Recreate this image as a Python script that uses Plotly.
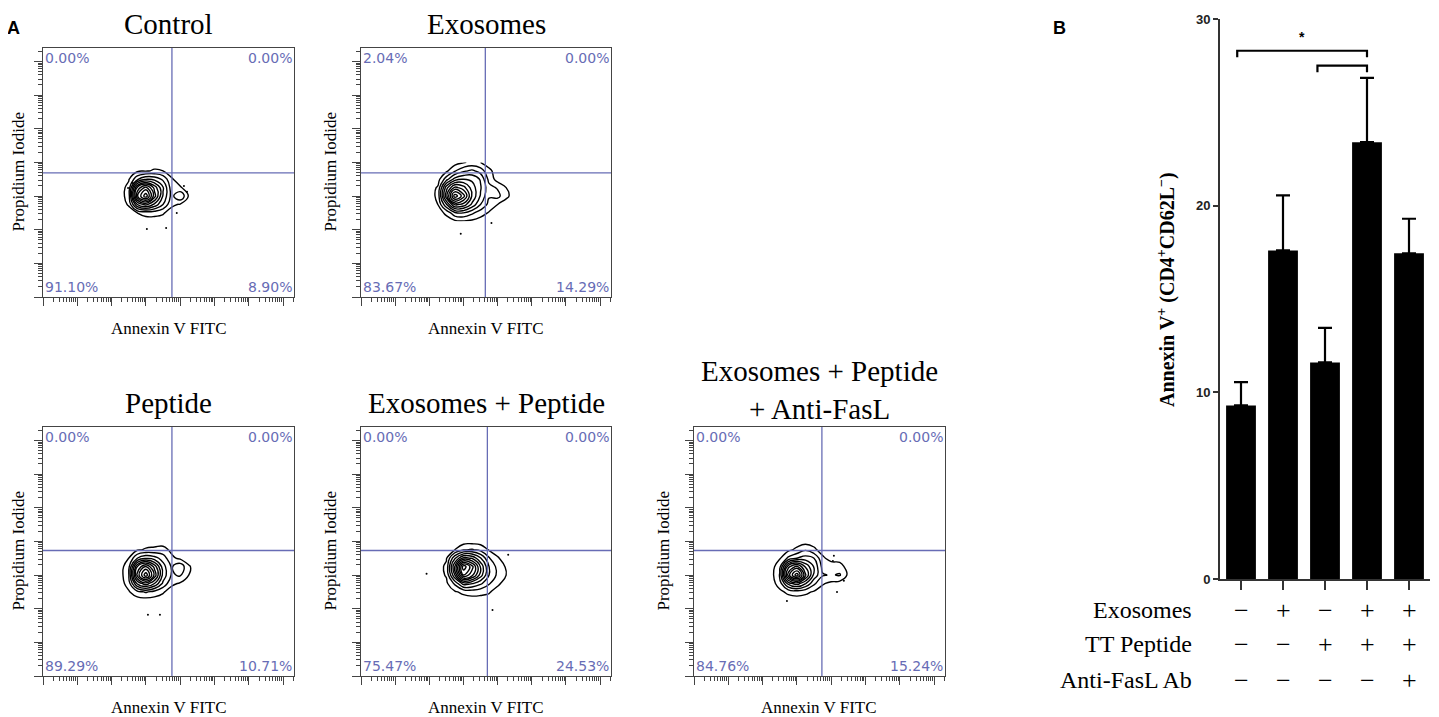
"""Annexin V / PI flow panels (A) and apoptosis bar chart (B)."""
import math

import plotly.graph_objects as go

# the page body adds an 8px margin, so the figure is drawn slightly smaller
PAGE_W, PAGE_H, BODY = 1439, 717, 8
W, H = PAGE_W - 2 * BODY, PAGE_H - BODY

# ---- panel A data (axis units = decades) ----
titles = ["Control", "Exosomes", "Peptide", "Exosomes + Peptide",
          "Exosomes + Peptide<br>+ Anti-FasL"]
quad_pct = [
    ["0.00%", "0.00%", "91.10%", "8.90%"],
    ["2.04%", "0.00%", "83.67%", "14.29%"],
    ["0.00%", "0.00%", "89.29%", "10.71%"],
    ["0.00%", "0.00%", "75.47%", "24.53%"],
    ["0.00%", "0.00%", "84.76%", "15.24%"],
]
quad_x = [3.76, 3.64, 3.76, 3.70, 3.73]
quad_y = [3.69, 3.69, 3.73, 3.73, 3.73]

grid_x = [2.0, 2.25, 2.5, 2.75, 3.0, 3.25, 3.5, 3.75, 4.0, 4.25, 4.5]
grid_y = [2.25, 2.5, 2.75, 3.0, 3.25, 3.5, 3.75, 4.0]

density_control = [
    [0, 0, 0, 0, 0, 0, 0, 0, 0, 0, 0],
    [0, 0, 0, 4, 7, 7, 5, 0, 0, 0, 0],
    [0, 0, 5, 40, 52, 38, 22, 6, 3, 0, 0],
    [0, 0, 8, 75, 100, 62, 30, 10, 22, 3, 0],
    [0, 0, 7, 60, 80, 55, 32, 8, 5, 0, 0],
    [0, 0, 3, 20, 30, 28, 20, 5, 0, 0, 0],
    [0, 0, 0, 2, 3, 5, 4, 0, 0, 0, 0],
    [0, 0, 0, 0, 0, 0, 0, 0, 0, 0, 0],
]
density_exosomes = [
    [0, 0, 0, 2, 3, 2, 0, 0, 0, 0, 0],
    [0, 0, 6, 20, 22, 15, 8, 3, 0, 0, 0],
    [0, 4, 30, 60, 55, 38, 22, 10, 4, 0, 0],
    [0, 6, 55, 100, 80, 48, 30, 14, 16, 6, 0],
    [0, 5, 45, 70, 62, 45, 32, 16, 12, 4, 0],
    [0, 0, 18, 35, 40, 38, 30, 10, 0, 0, 0],
    [0, 0, 2, 12, 20, 24, 18, 6, 0, 0, 0],
    [0, 0, 0, 0, 3, 6, 4, 0, 0, 0, 0],
]
density_peptide = [
    [0, 0, 0, 0, 0, 0, 0, 0, 0, 0, 0],
    [0, 0, 3, 10, 14, 10, 5, 0, 0, 0, 0],
    [0, 0, 8, 42, 55, 40, 20, 6, 3, 0, 0],
    [0, 0, 12, 70, 100, 65, 28, 12, 14, 4, 0],
    [0, 0, 10, 58, 78, 55, 26, 12, 20, 5, 0],
    [0, 0, 4, 22, 30, 26, 18, 6, 2, 0, 0],
    [0, 0, 0, 3, 5, 6, 7, 2, 0, 0, 0],
    [0, 0, 0, 0, 0, 0, 0, 0, 0, 0, 0],
]
density_exo_pep = [
    [0, 0, 0, 0, 0, 0, 0, 0, 0, 0, 0],
    [0, 0, 0, 3, 6, 8, 7, 5, 0, 0, 0],
    [0, 0, 2, 15, 35, 32, 24, 14, 6, 0, 0],
    [0, 0, 5, 40, 85, 70, 45, 22, 11, 4, 0],
    [0, 0, 6, 50, 100, 80, 48, 22, 10, 3, 0],
    [0, 0, 3, 30, 52, 48, 32, 14, 5, 0, 0],
    [0, 0, 0, 4, 12, 14, 10, 3, 0, 0, 0],
    [0, 0, 0, 0, 0, 0, 0, 0, 0, 0, 0],
]
density_fasl = [
    [0, 0, 0, 0, 0, 0, 0, 0, 0, 0, 0],
    [0, 0, 2, 6, 8, 6, 3, 0, 0, 0, 0],
    [0, 0, 8, 35, 45, 32, 15, 5, 2, 0, 0],
    [0, 0, 14, 72, 100, 60, 28, 14, 12, 14, 2],
    [0, 0, 10, 55, 70, 48, 30, 10, 10, 8, 0],
    [0, 0, 3, 15, 22, 26, 22, 6, 0, 0, 0],
    [0, 0, 0, 2, 6, 12, 6, 0, 0, 0, 0],
    [0, 0, 0, 0, 0, 0, 0, 0, 0, 0, 0],
]
densities = [density_control, density_exosomes, density_peptide,
             density_exo_pep, density_fasl]

dots_x = [[2.62, 4.11, 4.2, 3.9, 3.03, 3.59, 2.48], [3.82, 2.92],
          [3.06, 3.41], [1.92, 4.31, 3.85], [4.08, 4.05, 4.37, 4.17, 2.71]]
dots_y = [[3.39, 3.30, 3.13, 2.5, 2.02, 2.05, 3.24], [2.2, 1.88],
          [1.82, 1.82], [3.04, 3.6, 1.96], [3.57, 3.42, 2.83, 2.5, 2.23]]

# ---- panel B data ----
conditions = [0, 1, 2, 3, 4]
annexin_mean = [9.3, 17.6, 11.6, 23.4, 17.45]
annexin_err = [1.25, 2.95, 1.85, 3.45, 1.85]
row_labels = ["Exosomes", "TT Peptide", "Anti-FasL Ab"]
row_signs = [
    ["−", "+", "−", "+", "+"],
    ["−", "−", "+", "+", "+"],
    ["−", "−", "−", "−", "+"],
]
# (from bar, to bar, bracket height, label)
brackets = [(-0.09, 3.0, 28.3, "*"), (1.82, 3.0, 27.5, "")]

# panel boxes in page pixels: left, right, top, bottom
boxes = [(43, 294, 48, 297), (361, 611, 48, 297), (43, 294, 427, 676),
         (361, 611, 427, 676), (694, 945, 427, 676)]

SERIF = "Liberation Serif"
SANS = "Liberation Sans"
QUAD = "#676cb5"


def px_x(p):
    return (p - BODY) / W


def px_y(p):
    return (H - (p - BODY)) / H


def label(text, x, y, size, family=SERIF, angle=0, xanchor="center",
          color="black"):
    return dict(text=text, x=px_x(x), y=px_y(y), xref="paper", yref="paper",
                xanchor=xanchor, yanchor="middle", showarrow=False,
                textangle=angle, font=dict(family=family, size=size,
                                           color=color))


def minor_ticks(top):
    return [k + math.log10(m) for k in range(9) for m in range(2, 10)
            if k + math.log10(m) < top]


fig = go.Figure()
annotations = []
shapes = []

for i, (l, r, t, b) in enumerate(boxes):
    sfx = "" if i == 0 else str(i + 1)
    xa, ya = f"x{sfx}", f"y{sfx}"
    fig.add_trace(go.Contour(
        x=grid_x, y=grid_y, z=densities[i], xaxis=xa, yaxis=ya,
        contours=dict(coloring="lines", start=4, end=94, size=9),
        colorscale=[[0, "black"], [1, "black"]], showscale=False,
        line=dict(width=1.4, smoothing=1.3), hoverinfo="skip",
    ))
    fig.add_trace(go.Scatter(
        x=dots_x[i], y=dots_y[i], xaxis=xa, yaxis=ya, mode="markers",
        marker=dict(size=2, color="black"), hoverinfo="skip",
    ))
    axis_common = dict(
        showline=True, linecolor="#444", linewidth=1, mirror=True,
        ticks="outside", ticklen=8, tickcolor="#444", showticklabels=False,
        showgrid=False, zeroline=False, tickmode="array",
        tickvals=list(range(8)), automargin=False,
    )
    fig.update_layout(**{
        f"xaxis{sfx}": dict(axis_common, domain=[px_x(l), px_x(r)],
                            range=[0, 7.32], anchor=ya,
                            minor=dict(tickvals=minor_ticks(7.32),
                                       ticks="outside", ticklen=4,
                                       tickcolor="#444")),
        f"yaxis{sfx}": dict(axis_common, domain=[px_y(b), px_y(t)],
                            range=[0, 7.4], anchor=xa,
                            minor=dict(tickvals=minor_ticks(7.4),
                                       ticks="outside", ticklen=4,
                                       tickcolor="#444")),
    })
    # quadrant gates
    shapes.append(dict(type="line", xref=xa, yref=f"{ya} domain",
                       x0=quad_x[i], x1=quad_x[i], y0=0, y1=1,
                       line=dict(color=QUAD, width=1.3)))
    shapes.append(dict(type="line", xref=f"{xa} domain", yref=ya,
                       x0=0, x1=1, y0=quad_y[i], y1=quad_y[i],
                       line=dict(color=QUAD, width=1.3)))
    for j, (qx, qy) in enumerate([(0, 1), (1, 1), (0, 0), (1, 0)]):
        annotations.append(dict(
            text=quad_pct[i][j], xref=f"{xa} domain", yref=f"{ya} domain",
            x=0.0 if qx == 0 else 1.0, y=1.0 if qy == 1 else 0.0,
            xanchor="left" if qx == 0 else "right",
            yanchor="top" if qy == 1 else "bottom",
            showarrow=False,
            font=dict(family="DejaVu Sans", size=14, color=QUAD),
        ))
    # titles and axis labels
    title_y = t - 24 if "<br>" not in titles[i] else t - 37
    annotations.append(label(titles[i], (l + r) / 2, title_y, 29))
    annotations.append(label("Annexin V FITC", (l + r) / 2, b + 31, 17))
    annotations.append(label("Propidium Iodide", max(l - 31, 18),
                             (t + b) / 2, 17, angle=-90))

# ---- panel B ----
fig.add_trace(go.Bar(
    x=conditions, y=annexin_mean, xaxis="x6", yaxis="y6", width=0.71,
    marker=dict(color="black", line=dict(width=0)),
    error_y=dict(type="data", array=annexin_err, symmetric=False,
                 arrayminus=[0] * len(annexin_err), color="black",
                 thickness=2.2, width=7),
    hoverinfo="skip",
))
fig.update_layout(
    xaxis6=dict(domain=[px_x(1220), px_x(1430)], range=[-0.5, 4.5],
                anchor="y6", showline=True, linewidth=2, linecolor="#333",
                ticks="outside", ticklen=9, tickwidth=2, tickcolor="#333",
                tickvals=conditions, showticklabels=False, showgrid=False,
                zeroline=False, automargin=False),
    yaxis6=dict(domain=[px_y(579), px_y(19)], range=[0, 30], anchor="x6",
                showline=True, linewidth=2, linecolor="#333",
                ticks="outside", ticklen=5, tickwidth=2, tickcolor="#333",
                tickvals=[0, 10, 20, 30], showgrid=False, zeroline=False,
                automargin=False,
                tickfont=dict(family=SANS, size=13, color="#222",
                              weight="bold")),
)
for x0, x1, yb, star in brackets:
    shapes.append(dict(
        type="path", xref="x6", yref="y6",
        path=f"M {x0},{yb - 0.35} L {x0},{yb} L {x1},{yb} L {x1},{yb - 0.35}",
        line=dict(color="black", width=2.2),
    ))
    if star:
        annotations.append(dict(text=f"<b>{star}</b>", x=(x0 + x1) / 2,
                                y=yb + 0.75, xref="x6", yref="y6",
                                xanchor="center", yanchor="middle",
                                showarrow=False,
                                font=dict(family=SANS, size=14, color="black")))

row_y = [610, 644, 680]
for k, lab in enumerate(row_labels):
    annotations.append(label(lab, 1194, row_y[k], 24, xanchor="right"))
    for c, s in zip(conditions, row_signs[k]):
        annotations.append(dict(
            text=s, x=c, y=px_y(row_y[k]), xref="x6", yref="paper",
            xanchor="center", yanchor="middle", showarrow=False,
            font=dict(family=SERIF, size=26, color="black"),
        ))

annotations.append(label(
    "<b>Annexin V<sup>+</sup> (CD4<sup>+</sup>CD62L<sup>−</sup>)</b>",
    1166, 290, 20, angle=-90))
annotations.append(label("<b>A</b>", 13, 28, 18, family=SANS))
annotations.append(label("<b>B</b>", 1059, 28, 18, family=SANS))

fig.update_layout(
    width=W, height=H,
    margin=dict(l=0, r=0, t=0, b=0, pad=0, autoexpand=False),
    paper_bgcolor="white", plot_bgcolor="white", showlegend=False,
    annotations=annotations, shapes=shapes,
)
fig.write_html("out.html")
